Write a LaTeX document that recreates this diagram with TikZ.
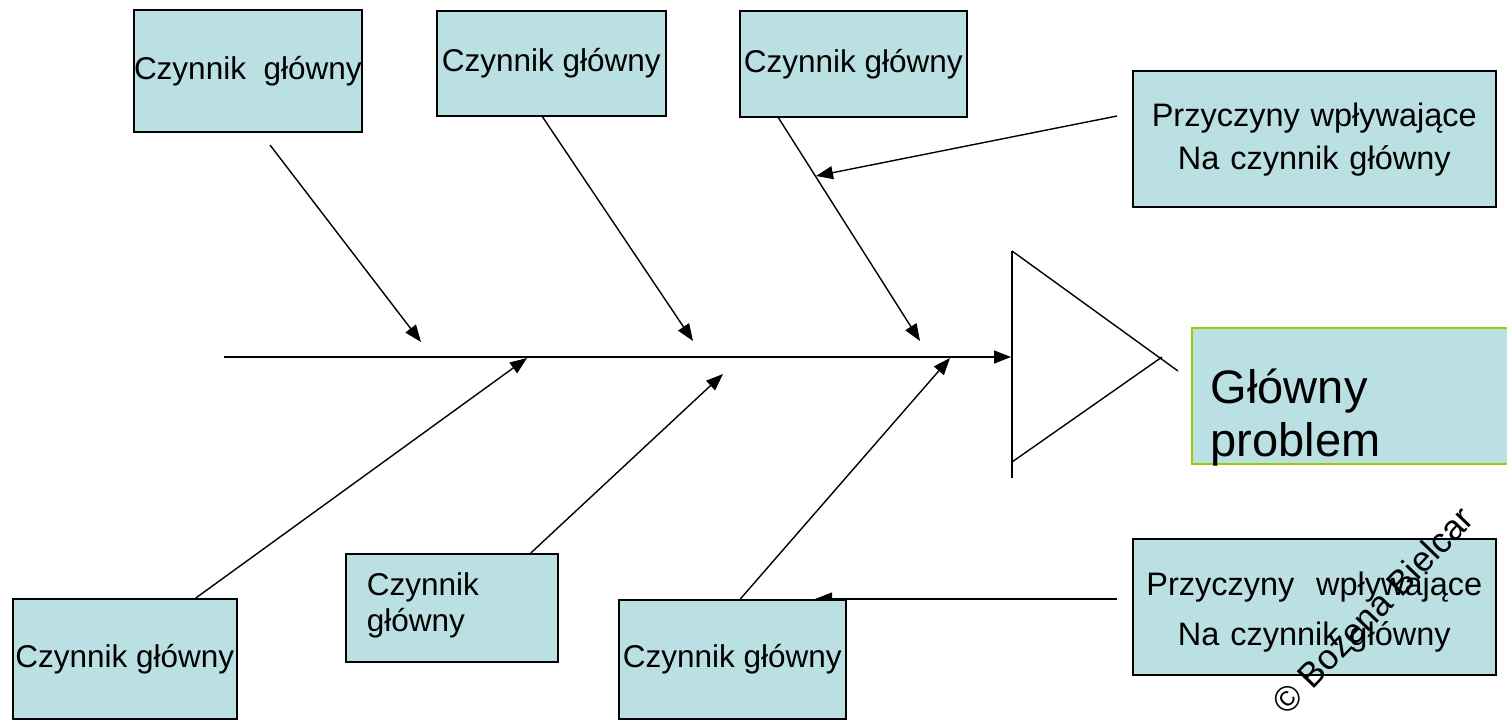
\documentclass[tikz,border=0pt]{standalone}
\usepackage{fontspec}
\setmainfont{Liberation Sans}
\usetikzlibrary{arrows.meta,positioning,backgrounds}
\definecolor{boxfill}{RGB}{187,224,227}
\definecolor{probgreen}{RGB}{153,204,0}

\begin{document}
\begin{tikzpicture}[x=1pt,y=-1pt,
	box/.style={draw,fill=boxfill,line width=1.6pt,inner sep=0pt,anchor=north west,
		font=\fontsize{31.5}{38}\selectfont},
	arr/.style={line width=1.4pt,-{Triangle[length=17pt,width=13pt]}},
	bone/.style={line width=1.4pt},
]
\useasboundingbox (0,0) rectangle (1507,722);
% czynniki glowne
\node[box,minimum width=228pt,minimum height=122pt] (cz1) at (133,9) {Czynnik~ główny};
\node[box,minimum width=229pt,minimum height=105pt] (cz2) at (436,10) {Czynnik główny};
\node[box,minimum width=227pt,minimum height=106pt] (cz3) at (739,10) {Czynnik główny};
\node[box,minimum width=224pt,minimum height=120pt] (cz4) at (12,598) {Czynnik główny};
\node[box,inner xsep=21pt,text width=170pt,align=left,text height=42pt,text depth=66pt,
	font=\fontsize{31.5}{36}\selectfont] (cz5) at (345,553) {Czynnik\\główny};
\node[box,minimum width=227pt,minimum height=119pt] (cz6) at (618,599) {Czynnik główny};
% przyczyny
\node[box,text width=363pt,align=center,text height=56pt,text depth=80pt,
	font=\fontsize{32.5}{43}\selectfont] (przy1) at (1132,70) {Przyczyny wpływające\\Na czynnik główny};
\node[box,text width=363pt,align=center,text height=57pt,text depth=79pt,
	font=\fontsize{32.5}{50}\selectfont] (przy2) at (1132,538) {Przyczyny~ wpływające\\Na czynnik główny};
% problem
\node[box,draw=probgreen,inner xsep=19pt,text width=278pt,align=left,text height=76pt,text depth=60pt,
	font=\fontsize{47}{53}\selectfont] (prob) at (1191,327) {Główny\\problem};
% os i glowa
\coordinate (ax0) at (224,357);
\coordinate (ax1) at (1011,357);
\coordinate (gtop) at (1012,251);
\coordinate (gbot) at (1012,478);
\coordinate (glow) at (1012,462);
\coordinate (gup) at (1178,371);
\coordinate (gtip) at (1162,357);
% groty na osi
\coordinate (k1) at (421,342);
\coordinate (k2) at (693,341);
\coordinate (k3) at (920,341);
\coordinate (k4) at (816,176);
\coordinate (k5) at (527,358);
\coordinate (k6) at (723,374);
\coordinate (k7) at (950,358);
\coordinate (k8) at (815,599);
\coordinate (s1) at (270,145);
\coordinate (s4) at (1117,116);
\coordinate (s8) at (1117,599);
\begin{scope}[on background layer]
\draw[arr] (ax0) -- (ax1);
\draw[bone] (gtop) -- (gbot);
\draw[bone] (gtop) -- (gup);
\draw[bone] (glow) -- (gtip);
\draw[arr] (s1) -- (k1);
\draw[arr] ([xshift=-9pt]cz2.south) -- (k2);
\draw[arr] ([xshift=-75pt]cz3.south) -- (k3);
\draw[arr] (s4) -- (k4);
\draw[arr] ([xshift=71pt]cz4.north) -- (k5);
\draw[arr] ([xshift=79pt]cz5.north) -- (k6);
\draw[arr] ([xshift=8pt]cz6.north) -- (k7);
\draw[arr] (s8) -- (k8);
\end{scope}
% znak
\node[rotate=46,font=\fontsize{35}{40}\selectfont] (wm) at (1373,610) {© Bożena Bielcar};
\end{tikzpicture}
\end{document}
